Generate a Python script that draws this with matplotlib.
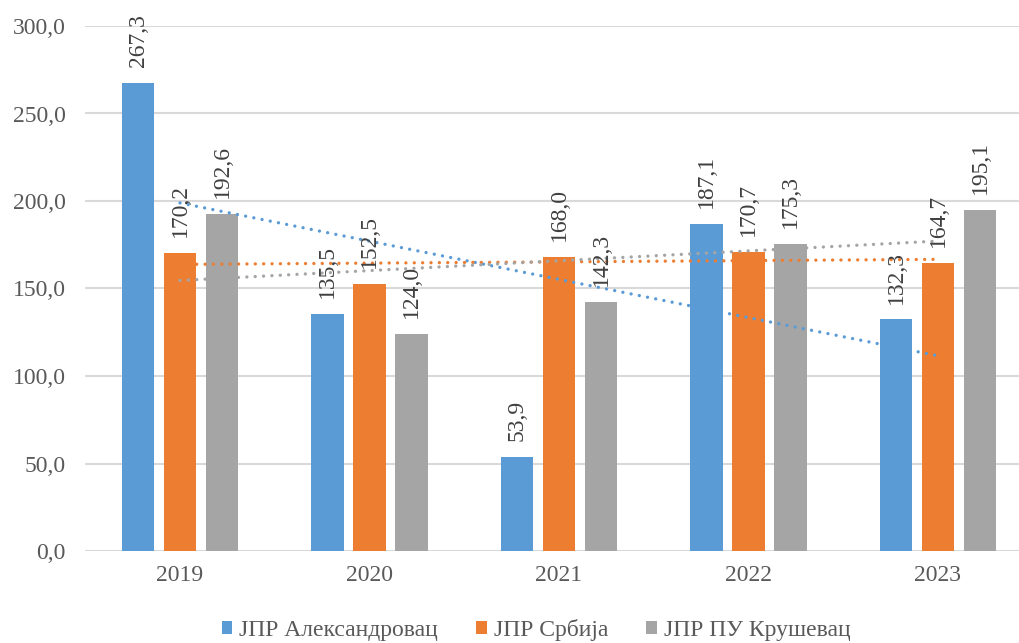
import numpy as np
import matplotlib
matplotlib.use("Agg")
import matplotlib.pyplot as plt
from matplotlib.patches import Patch

years = ["2019", "2020", "2021", "2022", "2023"]
series_names = ["ЈПР Александровац", "ЈПР Србија", "ЈПР ПУ Крушевац"]
aleksandrovac = [267.3, 135.5, 53.9, 187.1, 132.3]
srbija = [170.2, 152.5, 168.0, 170.7, 164.7]
krusevac = [192.6, 124.0, 142.3, 175.3, 195.1]
colors = ["#5B9BD5", "#ED7D31", "#A5A5A5"]
y_ticks = [0, 50, 100, 150, 200, 250, 300]

plt.rcParams["font.family"] = ["Liberation Serif", "DejaVu Serif"]

fig = plt.figure(figsize=(10.2, 6.43), dpi=100)
ax = fig.add_axes([85.25 / 1020, 92 / 643, 947.5 / 1020, 525 / 643])

x = np.arange(len(years))
bar_w = 0.174
pitch = 0.2216
all_series = [aleksandrovac, srbija, krusevac]

for i, (vals, col) in enumerate(zip(all_series, colors)):
    pos = x + (i - 1) * pitch
    ax.bar(pos, vals, width=bar_w, color=col, zorder=2)
    for xb, v in zip(pos, vals):
        ax.annotate(f"{v:.1f}".replace(".", ","), (xb, v),
                    xytext=(0, 11.5), textcoords="offset points",
                    rotation=90, ha="center", va="bottom",
                    fontsize=17, color="#404040", zorder=4)

# linear trend for each series across the years
for vals, col in zip(all_series, colors):
    k, b = np.polyfit(x, vals, 1)
    ax.plot(x, k * x + b, color=col, linewidth=2.4,
            linestyle=(0, (0.01, 2.5)), dash_capstyle="round", zorder=3)

ax.set_xlim(-0.5, len(years) - 0.5)
ax.set_ylim(0, 300)
ax.set_yticks(y_ticks)
ax.set_yticklabels([f"{t:.1f}".replace(".", ",") for t in y_ticks])
ax.set_xticks(x)
ax.set_xticklabels(years)
ax.tick_params(axis="both", length=0, labelsize=17, colors="#595959")
ax.tick_params(axis="y", pad=14)
ax.tick_params(axis="x", pad=10)
ax.grid(axis="y", color="#D9D9D9", linewidth=1.5, zorder=0)
ax.set_axisbelow(True)
for s in ax.spines.values():
    s.set_visible(False)

handles = [Patch(facecolor=c, edgecolor="none") for c in colors]
fig.legend(handles, series_names, loc="center", bbox_to_anchor=(536 / 1020, 1 - 630 / 643),
           ncol=3, frameon=False, fontsize=17, handlelength=0.45, handleheight=0.45,
           handletextpad=0.3, columnspacing=1.6, labelcolor="#595959")

fig.savefig("out.png", dpi=100)
